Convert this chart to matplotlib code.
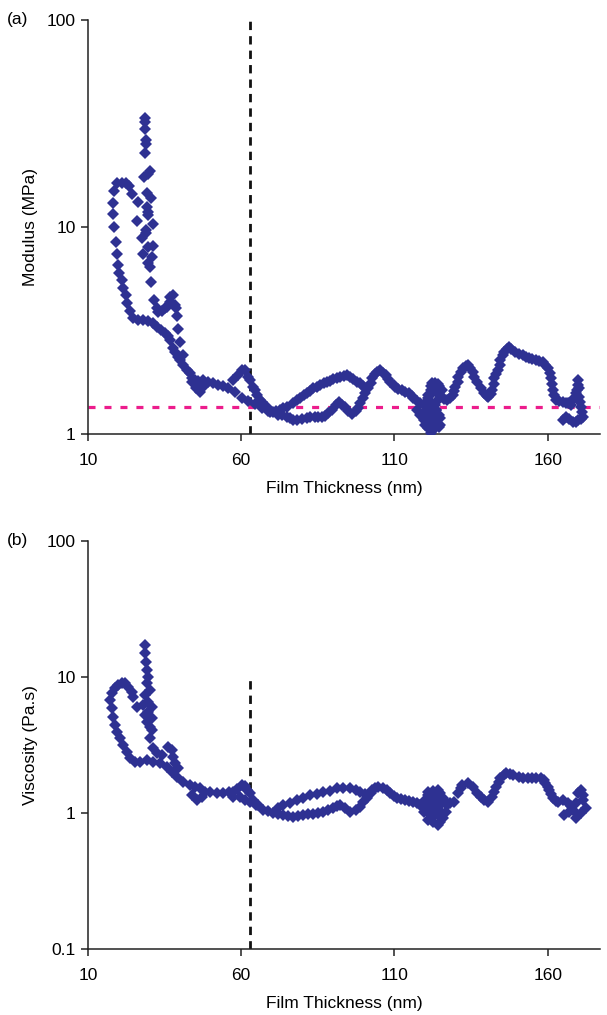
import matplotlib.pyplot as plt
from matplotlib.ticker import FixedLocator, NullLocator, FixedFormatter

plt.rcParams['font.family'] = ['Liberation Sans', 'DejaVu Sans']

# (a) modulus vs film thickness
thick_a = [
    # spike near 30 nm
    28.6, 28.6, 28.6, 29.0, 29.0, 28.6, 30.3, 29.6, 28.3, 29.3, 30.6, 26.3, 29.3, 29.6,
    29.6, 26.0, 31.2, 29.0, 29.0, 27.6, 31.2, 29.6, 28.0, 30.9, 29.6, 30.3, 30.6, 31.6,
    32.5, 34.2, 32.9, 35.2, 35.8, 36.8, 37.8, 36.8, 38.4, 38.8, 39.1, 39.4, 40.1, 41.0,
    # left arc and main branch
    24.4, 23.4, 22.4, 21.1, 19.5, 18.5, 18.2, 18.2, 18.5, 19.2, 19.5, 19.8, 20.1, 21.1,
    21.4, 22.4, 22.7, 23.7, 24.7, 26.3, 28.0, 29.6, 31.2, 32.5, 33.9, 35.2, 36.1, 36.8,
    37.8, 38.4, 39.4, 40.1, 41.0, 42.4, 43.3, 44.0, 45.0, 45.9, 47.6, 49.2, 50.8, 52.5,
    54.1, 55.8, 57.4, 59.0, 60.3, 61.3, 62.3, 62.9, 63.9, 64.6, 65.2, 66.2, 66.9, 68.5,
    69.5, 70.5, 72.1, 73.4, 75.0, 76.0, 77.0, 78.3, 79.9, 81.6, 82.5, 84.2, 85.2, 86.5,
    87.5, 88.4, 89.7, 91.0, 92.0, 93.0, 94.0, 95.0, 96.3, 97.3, 98.2, 98.9, 99.9, 100.5,
    101.5, 102.2, 102.8, 103.8, 104.4, 105.4, 106.4, 107.1, 108.0, 108.7, 109.7, 110.3,
    111.3, 112.6, 113.6, 114.6, 115.6, 116.2, 117.5, 118.5, 119.5, 120.8,
    # small loops
    44.0, 45.3, 46.6, 47.9, 58.0, 60.3, 62.3, 64.6, 66.9, 68.8,
    # upper branch 70-100 nm
    71.4, 72.7, 73.7, 75.0, 77.0, 78.3, 79.3, 80.6, 81.6, 82.5, 83.5, 84.8, 85.8, 87.1,
    88.1, 89.1, 90.1, 91.4, 92.4, 93.7, 94.6, 95.6, 96.6, 97.9, 98.9, 99.9, 100.8,
    # cluster near 122 nm
    117.5, 118.5, 119.5, 120.1, 120.8, 121.8, 122.4, 123.4, 124.4, 125.0, 123.7, 122.7,
    121.8, 121.1, 120.8, 121.1, 121.8, 121.8, 122.4, 123.4, 124.1, 124.7, 125.4, 125.0,
    124.1, 123.1, 123.7, 124.4, 122.7, 120.8, 119.8, 122.0, 123.5, 121.0, 122.5, 124.0,
    125.0, 122.0, 123.5,
    # thick end
    125.0, 126.3, 127.3, 128.3, 129.0, 129.6, 129.9, 130.6, 130.9, 131.6, 132.5, 133.2,
    133.9, 134.8, 135.5, 136.1, 137.1, 138.1, 139.1, 140.1, 140.7, 141.4, 142.0, 142.4,
    142.4, 143.0, 143.7, 144.3, 144.6, 145.3, 145.6, 146.6, 147.3, 148.2, 149.5, 150.5,
    151.8, 152.8, 153.8, 154.8, 156.1, 157.1, 158.4, 159.3, 160.0, 160.7, 161.0, 161.3,
    161.6, 162.0, 162.6, 163.6, 164.9, 165.9, 166.5, 167.5, 168.5, 169.1, 169.5, 169.8,
    169.8, 170.1, 170.1, 170.5, 170.8, 171.1, 171.4, 170.8, 169.8, 169.1, 168.2, 166.9,
    165.9, 164.9,
]
modulus_a = [
    33.6, 32.2, 29.7, 26.3, 25.2, 22.8, 18.6, 18.0, 17.4, 14.6, 13.8, 13.2, 12.5, 11.8,
    11.4, 10.7, 10.3, 9.68, 9.36, 8.85, 8.10, 8.00, 7.41, 7.16, 6.70, 6.41, 5.42, 4.44,
    4.06, 3.93, 3.88, 4.06, 4.11, 4.59, 4.69, 4.34, 4.20, 4.06, 3.72, 3.22, 2.78, 2.41,
    14.4, 15.8, 16.3, 16.3, 16.3, 14.9, 13.1, 11.6, 10.0, 8.47, 7.41, 6.55, 5.99, 5.55,
    5.07, 4.69, 4.29, 3.93, 3.63, 3.55, 3.55, 3.51, 3.44, 3.29, 3.18, 3.07, 2.97, 2.84,
    2.60, 2.49, 2.35, 2.28, 2.15, 2.04, 1.97, 1.86, 1.82, 1.80, 1.82, 1.78, 1.76, 1.72,
    1.71, 1.67, 1.82, 1.93, 2.04, 2.04, 1.88, 1.82, 1.69, 1.63, 1.54, 1.46, 1.43, 1.35,
    1.28, 1.28, 1.24, 1.24, 1.21, 1.19, 1.17, 1.17, 1.18, 1.19, 1.21, 1.21, 1.21, 1.21,
    1.22, 1.26, 1.31, 1.38, 1.43, 1.38, 1.35, 1.29, 1.25, 1.29, 1.34, 1.41, 1.49, 1.58,
    1.67, 1.76, 1.86, 1.95, 1.99, 2.04, 1.97, 1.93, 1.84, 1.78, 1.72, 1.69,
    1.65, 1.63, 1.60, 1.58, 1.53, 1.49, 1.44, 1.41, 1.38, 1.35,
    1.78, 1.67, 1.60, 1.71, 1.60, 1.49, 1.44, 1.40, 1.34, 1.29,
    1.29, 1.31, 1.34, 1.35, 1.41, 1.46, 1.49, 1.54, 1.58, 1.61, 1.67, 1.69, 1.72, 1.76,
    1.78, 1.80, 1.84, 1.86, 1.88, 1.91, 1.93, 1.88, 1.84, 1.78, 1.76, 1.71, 1.65,
    1.31, 1.24, 1.17, 1.10, 1.07, 1.01, 1.05, 1.07, 1.08, 1.10, 1.17, 1.24,
    1.31, 1.38, 1.46, 1.54, 1.63, 1.71, 1.76, 1.76, 1.74, 1.71, 1.63, 1.54,
    1.46, 1.38, 1.31, 1.24, 1.12, 1.19, 1.28, 1.20, 1.15, 1.50, 1.60, 1.60,
    1.20, 1.40, 1.30,
    1.51, 1.48, 1.46, 1.49, 1.54, 1.61, 1.69, 1.78, 1.88, 1.99, 2.08, 2.13,
    2.15, 2.08, 1.99, 1.88, 1.78, 1.67, 1.58, 1.53, 1.51, 1.56, 1.63, 1.74,
    1.86, 1.95, 2.04, 2.15, 2.28, 2.41, 2.49, 2.57, 2.63, 2.57, 2.49, 2.43,
    2.41, 2.35, 2.33, 2.30, 2.28, 2.25, 2.23, 2.15, 2.08, 1.97, 1.86, 1.74,
    1.63, 1.54, 1.46, 1.44, 1.43, 1.41, 1.41, 1.38, 1.49, 1.58, 1.63, 1.72,
    1.82, 1.67, 1.51, 1.43, 1.35, 1.28, 1.21, 1.18, 1.17, 1.14, 1.14, 1.18,
    1.21, 1.17,
]

# (b) viscosity vs film thickness
thick_b = [
    # spike
    28.6, 28.6, 29.0, 29.3, 29.6, 29.3, 30.3, 28.6, 29.6, 28.0, 30.9, 29.6, 28.6, 30.9,
    29.3, 30.3, 30.9, 30.3, 31.2, 32.5, 34.2, 36.1, 37.5, 37.8, 38.4, 39.4, 26.0, 24.7,
    # left arc and main branch
    24.4, 23.1, 22.1, 21.1, 19.8, 18.8, 17.8, 17.2, 17.8, 18.2, 18.8, 19.5, 20.5, 21.4,
    22.7, 23.7, 25.4, 27.0, 29.3, 31.2, 33.5, 35.8, 37.5, 39.1, 41.0, 43.3, 45.0, 46.6,
    48.2, 49.9, 52.2, 54.1, 56.1, 57.4, 58.7, 60.3, 61.3, 62.0, 62.9, 63.9, 65.6, 67.2,
    68.8, 70.5, 72.1, 73.7, 75.4, 77.0, 78.6, 80.3, 81.9, 83.5, 85.2, 86.8, 88.4, 90.1,
    91.4, 92.4, 94.0, 95.6, 97.3, 98.9, 99.9, 101.2, 102.2, 102.8, 103.8, 104.8, 106.4,
    107.7, 108.7, 110.0, 111.0, 112.3, 113.6, 114.9, 116.2, 117.5, 118.5,
    # small loops
    45.6, 47.3, 44.0, 57.4, 59.7, 61.3, 62.9, 64.9,
    # upper branch 70-100 nm
    72.1, 73.7, 76.0, 78.3, 80.3, 82.5, 84.8, 86.8, 89.1, 91.4, 93.3, 95.6, 97.3, 98.9,
    100.5,
    # cluster near 122 nm
    120.1, 121.1, 121.8, 122.7, 124.1, 125.0, 126.0, 126.7, 127.3, 126.0, 125.0, 124.1,
    122.7, 121.8, 122.4, 123.7, 125.0, 124.4, 121.1, 119.8, 120.8, 121.5, 123.0, 124.5,
    123.0, 125.5, 122.0, 126.0, 124.0, 121.0,
    # thick end
    127.3, 128.3, 129.3, 130.6, 131.6, 132.2, 133.9, 135.5, 137.1, 138.1, 139.1, 140.4,
    141.7, 142.4, 143.0, 144.0, 144.6, 145.6, 146.3, 147.6, 148.6, 150.5, 151.8, 153.5,
    154.8, 156.1, 157.7, 158.7, 159.3, 160.0, 160.3, 161.0, 161.6, 162.6, 163.3, 164.9,
    166.5, 167.5, 168.2, 169.1, 169.8, 170.8, 171.4, 171.4, 172.4, 170.8, 169.1, 166.9,
    165.3,
]
viscosity_b = [
    17.2, 15.0, 12.9, 11.3, 10.0, 9.03, 8.02, 7.37, 6.55, 6.23, 6.02, 5.53, 5.26, 5.00,
    4.67, 4.29, 4.08, 3.56, 3.01, 2.76, 2.67, 3.06, 2.91, 2.58, 2.33, 2.14, 6.02, 7.13,
    7.76, 8.44, 9.03, 9.03, 8.73, 8.30, 7.63, 6.78, 5.92, 5.08, 4.44, 3.94, 3.56, 3.16,
    2.81, 2.54, 2.37, 2.37, 2.45, 2.37, 2.33, 2.18, 2.00, 1.84, 1.69, 1.61, 1.55, 1.53,
    1.43, 1.43, 1.40, 1.40, 1.43, 1.43, 1.50, 1.61, 1.58, 1.48, 1.40, 1.25, 1.15, 1.05,
    1.03, 1.00, 0.98, 0.97, 0.95, 0.93, 0.95, 0.97, 0.98, 0.98, 1.00, 1.02, 1.05, 1.09,
    1.13, 1.15, 1.09, 1.02, 1.05, 1.11, 1.20, 1.29, 1.40, 1.48, 1.53, 1.55, 1.53,
    1.48, 1.40, 1.33, 1.29, 1.27, 1.25, 1.23, 1.20, 1.19, 1.15,
    1.25, 1.31, 1.36, 1.31, 1.31, 1.25, 1.20, 1.15,
    1.09, 1.15, 1.19, 1.25, 1.29, 1.36, 1.38, 1.43, 1.45, 1.53, 1.53, 1.53, 1.48, 1.43,
    1.38,
    1.25, 1.09, 0.97, 0.86, 0.82, 0.86, 0.92, 1.02, 1.15, 1.29, 1.40, 1.48,
    1.45, 1.36, 1.15, 1.05, 1.15, 0.97, 0.89, 1.02, 1.43, 1.20, 1.25, 1.20,
    0.95, 1.00, 1.10, 1.25, 1.35, 1.35,
    1.19, 1.19, 1.20, 1.40, 1.53, 1.61, 1.66, 1.55, 1.40, 1.31, 1.25, 1.20,
    1.31, 1.43, 1.55, 1.69, 1.81, 1.90, 1.97, 1.94, 1.90, 1.84, 1.81, 1.81,
    1.81, 1.81, 1.81, 1.75, 1.66, 1.55, 1.48, 1.38, 1.29, 1.23, 1.20, 1.25,
    1.19, 1.13, 1.05, 1.19, 1.40, 1.48, 1.36, 1.25, 1.09, 1.00, 0.92, 1.02,
    0.97,
]

x_ticks = [10, 60, 110, 160]
marker_color = '#2e3192'
ref_thickness = 62.9
ref_modulus = 1.35
fs = 12.5

fig = plt.figure(figsize=(6.07, 10.15), dpi=100)
ax1 = fig.add_axes([0.145, 0.5724, 0.843, 0.408])
ax2 = fig.add_axes([0.145, 0.065, 0.843, 0.402])


def style_axis(ax, ylim, yticks, ylabels):
    ax.set_yscale('log')
    ax.set_xlim(10, 177)
    ax.set_ylim(*ylim)
    ax.xaxis.set_major_locator(FixedLocator(x_ticks))
    ax.yaxis.set_major_locator(FixedLocator(yticks))
    ax.yaxis.set_major_formatter(FixedFormatter(ylabels))
    ax.yaxis.set_minor_locator(NullLocator())
    for side in ['top', 'right']:
        ax.spines[side].set_visible(False)
    for side in ['left', 'bottom']:
        ax.spines[side].set_linewidth(1.1)
        ax.spines[side].set_color('#222222')
    ax.tick_params(direction='out', length=5, width=1.1, color='#222222',
                   labelsize=fs)
    ax.tick_params(axis='x', pad=9)
    ax.tick_params(axis='y', pad=4)
    ax.set_xlabel('Film Thickness (nm)', fontsize=fs, labelpad=9)


# (a)
ax1.plot(thick_a, modulus_a, linestyle='none', marker='D', markersize=6.2,
         color=marker_color, markeredgewidth=0, zorder=3)
ax1.axvline(ref_thickness, color='#111111', linestyle=(0, (3.0, 2.2)), linewidth=2, zorder=2)
ax1.axhline(ref_modulus, color='#ec1c8c', linestyle=(0, (2.2, 2.8)), linewidth=2.3, zorder=2)
style_axis(ax1, (1, 100), [1, 10, 100], ['1', '10', '100'])
ax1.set_ylabel('Modulus (MPa)', fontsize=fs, labelpad=6)
fig.text(0.012, 0.9803, '(a)', fontsize=fs, va='center', ha='left')

# (b)
ax2.plot(thick_b, viscosity_b, linestyle='none', marker='D', markersize=6.2,
         color=marker_color, markeredgewidth=0, zorder=3)
ax2.plot([ref_thickness, ref_thickness], [0.1, 10], color='#111111',
         linestyle=(0, (3.0, 2.2)), linewidth=2, zorder=2)
style_axis(ax2, (0.1, 100), [0.1, 1, 10, 100], ['0.1', '1', '10', '100'])
ax2.set_ylabel('Viscosity (Pa.s)', fontsize=fs, labelpad=6)
fig.text(0.012, 0.467, '(b)', fontsize=fs, va='center', ha='left')

fig.savefig('out.png', dpi=100)
